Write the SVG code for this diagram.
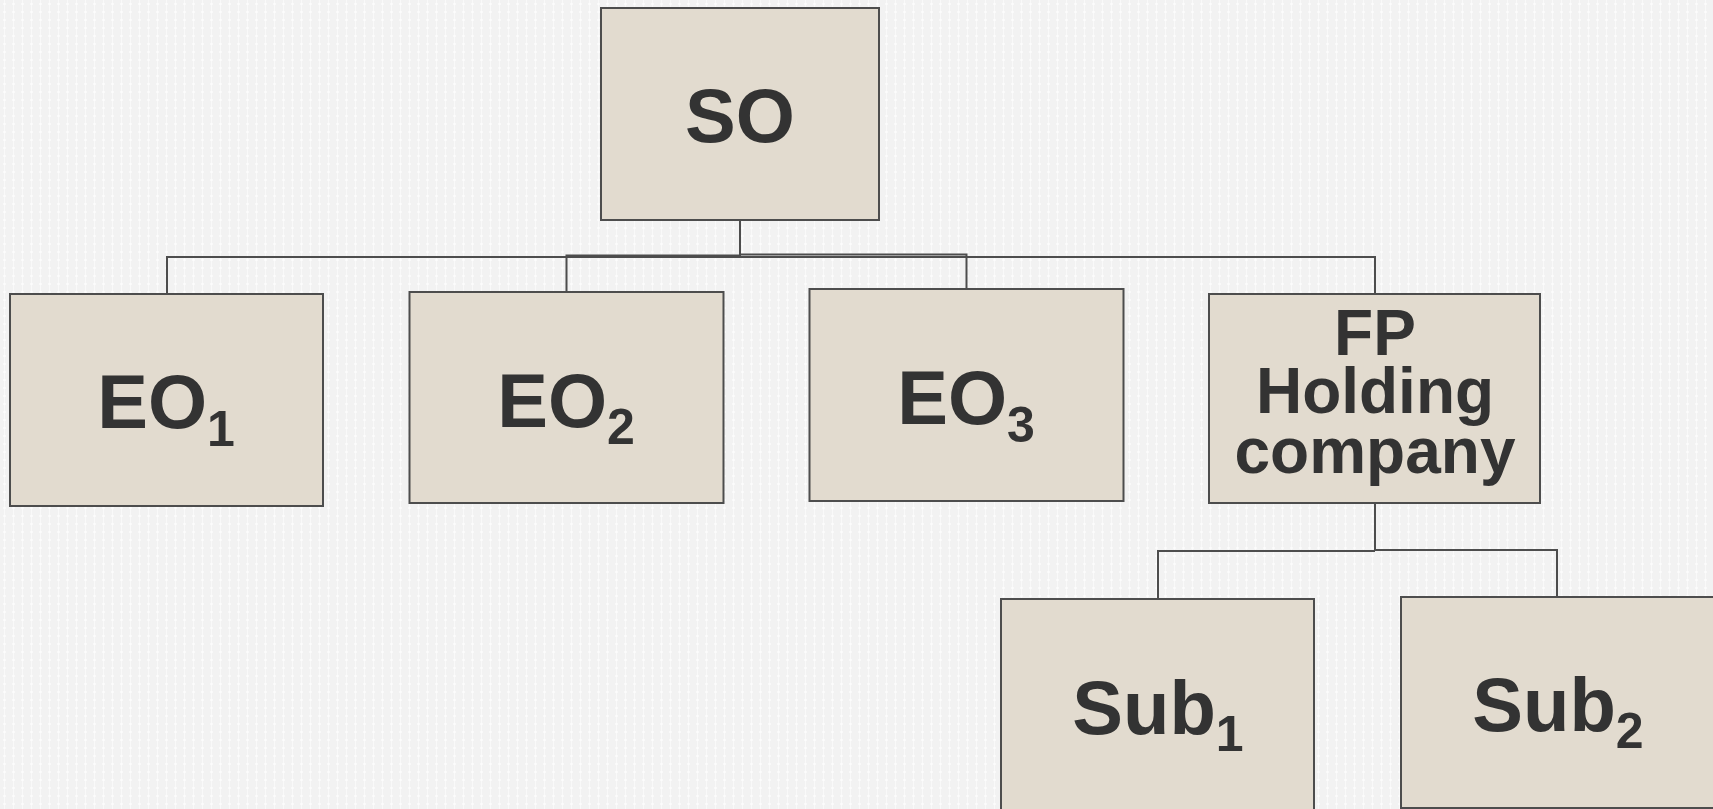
<svg xmlns="http://www.w3.org/2000/svg" width="1713" height="809" viewBox="0 0 1713 809">
  <defs>
    <!-- faint woven backdrop: pale vertical threads with small highlights -->
    <pattern id="weave" width="9" height="8" patternUnits="userSpaceOnUse">
      <rect width="9" height="8" fill="#f2f2f2"/>
      <rect x="4" y="0" width="1" height="8" fill="#ffffff" opacity="0.55"/>
      <rect x="3" y="3" width="3" height="2" fill="#ffffff" opacity="0.5"/>
    </pattern>
    <style>
      .box { fill: #e2dbcf; stroke: #4d4d4d; stroke-width: 2; }
      .link { fill: none; stroke: #4d4d4d; stroke-width: 2; }
      .lbl { font-family: "Liberation Sans", Arial, sans-serif; font-weight: bold; fill: #333333; text-anchor: middle; }
      .big { font-size: 76px; }
      .mid { font-size: 64px; }
      .sub { font-size: 50px; }
    </style>
  </defs>

  <rect width="1713" height="809" fill="url(#weave)"/>

  <!-- connectors -->
  <g id="connectors">
    <polyline class="link" points="740,220 740,257"/>
    <polyline class="link" points="167,294 167,257 1375,257 1375,294"/>
    <polyline class="link" points="566.5,292 566.5,255.5 740,255.5"/>
    <polyline class="link" points="740,254.5 966.5,254.5 966.5,289"/>
    <polyline class="link" points="1375,504 1375,551"/>
    <polyline class="link" points="1158,599 1158,551 1375,551"/>
    <polyline class="link" points="1375,550 1557,550 1557,597"/>
  </g>

  <g id="node-so">
    <rect class="box" x="601" y="8" width="278" height="212"/>
    <text class="lbl big" x="740" y="142">SO</text>
  </g>

  <g id="node-eo1">
    <rect class="box" x="10" y="294" width="313" height="212"/>
    <text class="lbl big" x="166" y="428">EO<tspan class="sub" dy="18">1</tspan></text>
  </g>

  <g id="node-eo2">
    <rect class="box" x="409.5" y="292" width="314" height="211"/>
    <text class="lbl big" x="566" y="427">EO<tspan class="sub" dy="17">2</tspan></text>
  </g>

  <g id="node-eo3">
    <rect class="box" x="809.5" y="289" width="314" height="212"/>
    <text class="lbl big" x="966" y="424">EO<tspan class="sub" dy="18">3</tspan></text>
  </g>

  <g id="node-fp">
    <rect class="box" x="1209" y="294" width="331" height="209"/>
    <text class="lbl mid" x="1375" y="355">FP</text>
    <text class="lbl mid" x="1375" y="413">Holding</text>
    <text class="lbl mid" x="1375" y="473">company</text>
  </g>

  <g id="node-sub1">
    <rect class="box" x="1001" y="599" width="313" height="212"/>
    <text class="lbl big" x="1158" y="734">Sub<tspan class="sub" dy="17">1</tspan></text>
  </g>

  <g id="node-sub2">
    <rect class="box" x="1401" y="597" width="314" height="211"/>
    <text class="lbl big" x="1558" y="731">Sub<tspan class="sub" dy="17">2</tspan></text>
  </g>
</svg>
